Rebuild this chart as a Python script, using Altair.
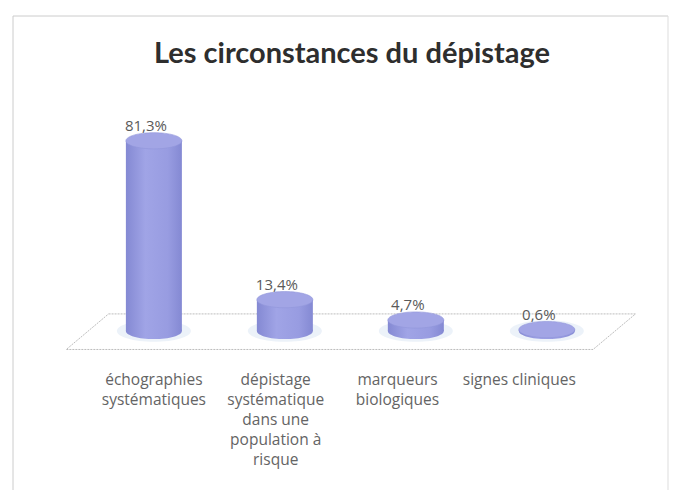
import altair as alt
import pandas as pd

# ---- data ----
categories = [
    "échographies systématiques",
    "dépistage systématique dans une population à risque",
    "marqueurs biologiques",
    "signes cliniques",
]
label_lines = [
    "échographies\nsystématiques",
    "dépistage\nsystématique\ndans une\npopulation à\nrisque",
    "marqueurs\nbiologiques",
    "signes cliniques",
]
values = [81.3, 13.4, 4.7, 0.6]

# 3D floor outline (data units of the chart)
floor_x = [-0.346, 3.677, 3.353, -0.669, -0.346]
floor_y = [7.3, 7.3, -7.9, -7.9, 7.3]

title_text = "Les circonstances du dépistage"

df = pd.DataFrame({"idx": list(range(len(values))), "categorie": categories,
                   "label": label_lines, "valeur": values})
floor = pd.DataFrame({"fx": floor_x, "fy": floor_y, "ordre": list(range(len(floor_x)))})
one = pd.DataFrame({"k": [0]})

W, H = 658, 476
xs = alt.Scale(domain=[-1.0451, 3.9023], nice=False, zero=False)
ys = alt.Scale(domain=[-67.95, 135.47], nice=False, zero=False)
X = alt.X("idx:Q", scale=xs, axis=None)

ellipse = "M-1,0A1,0.29,0,1,0,1,0A1,0.29,0,1,0,-1,0Z"
grad = alt.Gradient(
    gradient="linear",
    stops=[
        alt.GradientStop(color="#8489d3", offset=0),
        alt.GradientStop(color="#a0a4e6", offset=0.35),
        alt.GradientStop(color="#989ce1", offset=0.75),
        alt.GradientStop(color="#8489d3", offset=1),
    ],
    x1=0, x2=1, y1=0, y2=0,
)

base = alt.Chart(df).transform_calculate(
    zero="0",
    txt="replace(format(datum.valeur, '.1f'), '.', ',') + '%'",
    lx="datum.idx * 0.93",
)

# frame (left, top, right borders)
frame_left = alt.Chart(one).mark_rule(color="#cccccc", strokeWidth=1).encode(
    x=alt.value(1), y=alt.value(2), y2=alt.value(H))
frame_top = alt.Chart(one).mark_rule(color="#cccccc", strokeWidth=1).encode(
    x=alt.value(1), x2=alt.value(656), y=alt.value(2))
frame_right = alt.Chart(one).mark_rule(color="#dddddd", strokeWidth=1).encode(
    x=alt.value(656), y=alt.value(2), y2=alt.value(H))

title = alt.Chart(one).mark_text(
    text=title_text, font="Lato", fontSize=29, fontWeight="bold",
    color="#2e2e2e", align="center", baseline="alphabetic",
).encode(x=alt.value(340), y=alt.value(49))

floor_line = alt.Chart(floor).mark_line(
    color="#bdbdbd", strokeWidth=1, strokeDash=[2, 1]
).encode(
    x=alt.X("fx:Q", scale=xs, axis=None),
    y=alt.Y("fy:Q", scale=ys, axis=None),
    order="ordre:Q",
)

halo = base.mark_point(
    shape=ellipse, size=74 * 74, filled=True, fill="#dfe9f5", opacity=0.6, strokeWidth=0
).encode(x=X, y=alt.Y("zero:Q", scale=ys, axis=None))

body = base.mark_bar(size=56, fill=grad, opacity=1).encode(
    x=X, y=alt.Y("valeur:Q", scale=ys, axis=None), y2="zero:Q")

bottom = base.mark_point(
    shape=ellipse, size=56 * 56, filled=True, fill=grad, opacity=1, strokeWidth=0
).encode(x=X, y=alt.Y("zero:Q", scale=ys, axis=None))

top = base.mark_point(
    shape=ellipse, size=56 * 56, filled=True, fill="#a2a5e5", opacity=1,
    stroke="#9195da", strokeWidth=0.6,
).encode(x=X, y=alt.Y("valeur:Q", scale=ys, axis=None))

vlabels = base.mark_text(
    font="Open Sans", fontSize=15, color="#5a5a5a", align="center",
    baseline="middle", dx=-8, dy=-15,
).encode(x=X, y=alt.Y("valeur:Q", scale=ys, axis=None), text="txt:N")

clabels = base.mark_text(
    font="Open Sans", fontSize=15.5, color="#646464", align="center",
    baseline="top", lineBreak="\n", lineHeight=20,
).encode(
    x=alt.X("lx:Q", scale=xs, axis=None),
    y=alt.value(359),
    text="label:N",
)

chart = alt.layer(
    frame_left, frame_top, frame_right, title, floor_line,
    halo, body, bottom, top, vlabels, clabels,
).properties(
    width=W, height=H,
    autosize=alt.AutoSizeParams(type="none"),
    padding={"left": 4, "top": 6, "right": 2, "bottom": 0},
    background="white",
).configure_view(stroke=None)

chart.save("out.html", embed_options={"renderer": "svg", "actions": False})
